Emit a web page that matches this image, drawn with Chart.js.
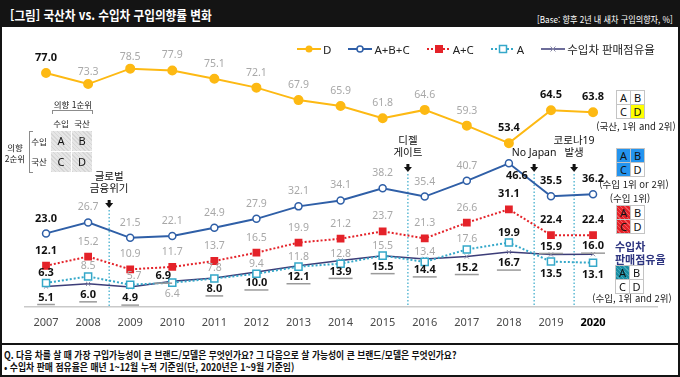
<!DOCTYPE html>
<html lang="ko">
<head>
<meta charset="utf-8">
<title>국산차 vs. 수입차 구입의향률 변화</title>
<script src="https://cdn.jsdelivr.net/npm/chart.js@4.4.1/dist/chart.umd.min.js"></script>
<style>
  html, body { margin: 0; padding: 0; background: #fff; }
  body { position: relative; width: 680px; height: 377px; overflow: hidden;
         font-family: 'Noto Sans', 'Noto Sans CJK KR', sans-serif; color: #111; }
  .title-bar { position: absolute; left: 0; top: 0; width: 680px; height: 27px; background: #141414; }
  .fit { position: absolute; white-space: nowrap; transform-origin: left center; }
  .title { left: 10px; top: 5px; color: #fff; font: bold 13px 'Noto Sans CJK KR', sans-serif; }
  .base { left: 537px; top: 13px; color: #fff; font: 9px 'Noto Sans CJK KR', sans-serif; }
  .frame { position: absolute; left: 0; top: 0; width: 680px; height: 377px; box-sizing: border-box;
           border: 2px solid #141414; pointer-events: none; }
  canvas { position: absolute; left: 0; top: 28px; }
  .legend { position: absolute; left: 297px; top: 41px; display: flex; align-items: center; gap: 17px;
            font-size: 11.5px; color: #222; }
  .legend .item { display: flex; align-items: center; gap: 2px; }
  .legend svg { display: block; }
  .foot-rule { position: absolute; left: 0; top: 343px; width: 680px; height: 2px; background: #141414; }
  .foot1 { left: 4px; top: 347px; font: bold 10px 'Noto Sans CJK KR', sans-serif; }
  .foot2 { left: 4px; top: 359px; font: bold 10px 'Noto Sans CJK KR', sans-serif; }
  .t { position: absolute; white-space: nowrap; transform: translate(-50%, -50%);
       font: 8.5px 'Noto Sans CJK KR', sans-serif; color: #222; }
  .cap { font-size: 9.5px; }
  .share-title { position: absolute; left: 615px; font: bold 11px 'Noto Sans CJK KR', sans-serif; color: #2e3580; }
  .mx { position: absolute; display: grid; grid-template-columns: 13px 13px; grid-auto-rows: 13px;
        gap: 1px; padding: 1px; background: #c4c4c4; }
  .mx div { background: #fff; font: 11px 'Noto Sans', sans-serif; line-height: 13px; text-align: center; color: #111; }
  .mx-big { position: absolute; left: 51px; top: 131px; display: grid; grid-template-columns: 20px 20px;
            grid-auto-rows: 20px; gap: 1px; }
  .mx-big div { background: repeating-linear-gradient(45deg, #d6d6d6 0 1px, #e6e6e6 1px 3px);
                font: 11px 'Noto Sans', sans-serif; line-height: 20px; text-align: center; color: #111; }
  .brk-top { position: absolute; left: 52px; top: 110px; width: 39px; height: 3px; border: 1px solid #8c8c8c; border-bottom: none; }
  .brk-left { position: absolute; left: 29px; top: 131px; width: 3px; height: 40px; border: 1px solid #8c8c8c; border-right: none; }
</style>
</head>
<body>
<div class="title-bar"></div>
<div class="fit title" data-w="202">[그림] 국산차 vs. 수입차 구입의향률 변화</div>
<div class="fit base" data-w="136">[Base: 향후 2년 내 새차 구입의향자, %]</div>

<canvas id="intent-chart" width="680" height="310"></canvas>
<div class="legend" id="legend"></div>

<!-- 의향 순위 설명 매트릭스 -->
<div class="t" style="left:73px; top:104px;">의향 1순위</div>
<div class="brk-top"></div>
<div class="t" style="left:61px; top:123px;">수입</div>
<div class="t" style="left:82px; top:123px;">국산</div>
<div class="mx-big"><div>A</div><div>B</div><div>C</div><div>D</div></div>
<div class="t" style="left:39px; top:141px;">수입</div>
<div class="t" style="left:39px; top:161px;">국산</div>
<div class="brk-left"></div>
<div class="t" style="left:15px; top:147px;">의향</div>
<div class="t" style="left:15px; top:158px;">2순위</div>

<div id="mx-d" class="mx" style="left:616px; top:90px;"></div>
<div class="t cap" style="left:636px; top:126px;">(국산, 1위 and 2위)</div>
<div id="mx-abc" class="mx" style="left:616px; top:148px;"></div>
<div class="t cap" style="left:634px; top:184px;">(수입 1위 or 2위)</div>
<div class="t cap" style="left:630px; top:198px;">(수입 1위)</div>
<div id="mx-ac" class="mx" style="left:616px; top:205px;"></div>
<div class="share-title" style="top:238px;">수입차</div>
<div class="share-title" style="top:251px;">판매점유율</div>
<div id="mx-a" class="mx" style="left:615px; top:265px;"></div>
<div class="t cap" style="left:632px; top:298px;">(수입, 1위 and 2위)</div>

<div class="foot-rule"></div>
<div class="fit foot1" data-w="452">Q. 다음 차를 살 때 가장 구입가능성이 큰 브랜드/모델은 무엇인가요? 그 다음으로 살 가능성이 큰 브랜드/모델은 무엇인가요?</div>
<div class="fit foot2" data-w="290">• 수입차 판매 점유율은 매년 1~12월 누적 기준임(단, 2020년은 1~9월 기준임)</div>
<div class="frame"></div>

<script>
const years = [2007, 2008, 2009, 2010, 2011, 2012, 2013, 2014, 2015, 2016, 2017, 2018, 2019, 2020]

const seriesNames = ['D', 'A+B+C', 'A+C', 'A', '수입차 판매점유율']

const domesticBoth = [77.0, 73.3, 78.5, 77.9, 75.1, 72.1, 67.9, 65.9, 61.8, 64.6, 59.3, 53.4, 64.5, 63.8]
const importAny = [23.0, 26.7, 21.5, 22.1, 24.9, 27.9, 32.1, 34.1, 38.2, 35.4, 40.7, 46.6, 35.5, 36.2]
const importFirst = [12.1, 15.2, 10.9, 11.7, 13.7, 16.5, 19.9, 21.2, 23.7, 21.3, 26.6, 31.1, 22.4, 22.4]
const importBoth = [6.3, 8.5, 5.7, 6.4, 7.8, 9.4, 11.8, 12.8, 15.5, 13.4, 17.6, 19.9, 13.5, 13.1]
const importShare = [5.1, 6.0, 4.9, 6.9, 8.0, 10.0, 12.1, 13.9, 15.5, 14.4, 15.2, 16.7, 15.9, 16.0]

const strongYears = [2007, 2018, 2019, 2020]

const eventNames = ['글로벌\n금융위기', '디젤\n게이트', 'No Japan', '코로나19\n발생']
const eventYears = [2008.5, 2015.6, 2018.6, 2019.55]


// styles
const fontFamily = "'Noto Sans', 'Noto Sans CJK KR', sans-serif"
const lineColors = ['#fdb913', '#2f5fa7', '#e42229', '#35a8c9', '#3c3d78']
const lineDash = [[], [], [2, 2], [2, 2], []]
const eventArrowTop = [172, 136, 136, 136]
const labelDy = [-15, -15, -15, -10, 11]
const labelMoves = {
  '0-1': [0, -12],
  '0-2': [0, -12],
  '1-11': [8, 13],
  '3-2': [4, -9],
  '3-3': [0, 11],
  '3-12': [0, 12],
  '3-13': [0, 12],
  '4-3': [-9, -5],
  '4-12': [0, -8],
  '4-13': [0, -8]
}


// titles & footnotes squeezed to the reference width
document.querySelectorAll('.fit').forEach((el) => {
  const target = Number(el.dataset.w)
  el.style.transform = `scaleX(${target / el.scrollWidth})`
})


// legend
function legendIcon(i) {
  const c = lineColors[i]
  const dash = lineDash[i].length ? `stroke-dasharray="${lineDash[i].join(' ')}"` : ''
  let mark = ''
  if (i === 0) mark = `<circle cx="12" cy="5" r="3.5" fill="${c}"/>`
  if (i === 1) mark = `<circle cx="12" cy="5" r="3" fill="#fff" stroke="${c}" stroke-width="1.5"/>`
  if (i === 2) mark = `<rect x="8" y="1" width="8" height="8" fill="${c}"/>`
  if (i === 3) mark = `<rect x="8.5" y="1.5" width="7" height="7" fill="#fff" stroke="${c}" stroke-width="1.5"/>`
  if (i === 4) mark = `<path d="M9.5 2.5 L14.5 7.5 M14.5 2.5 L9.5 7.5" stroke="#8a8aa8" stroke-width="1"/>`
  const w = i === 4 ? 1.5 : 2
  return `<svg width="24" height="10" viewBox="0 0 24 10"><line x1="0" y1="5" x2="24" y2="5" stroke="${c}" stroke-width="${w}" ${dash}/>${mark}</svg>`
}

let legendHTML = ''
seriesNames.forEach((name, i) => {
  legendHTML += `<span class="item">${legendIcon(i)}<span>${name}</span></span>`
})
document.getElementById('legend').innerHTML = legendHTML


// small A/B/C/D matrices on the right
function buildMatrix(id, fills) {
  let html = '';
  ['A', 'B', 'C', 'D'].forEach((letter, i) => {
    const bg = fills[i] ? `background:${fills[i]};` : ''
    html += `<div style="${bg}">${letter}</div>`
  })
  document.getElementById(id).innerHTML = html
}

const redHatch = 'repeating-linear-gradient(45deg, #e42229 0 2px, #f05a5f 2px 3px)'
const tealHatch = 'repeating-linear-gradient(45deg, #1b8ea3 0 2px, #45a9bb 2px 3px)'
buildMatrix('mx-d', [null, null, null, '#ffff00'])
buildMatrix('mx-abc', ['#2494ee', '#2494ee', '#2494ee', null])
buildMatrix('mx-ac', [redHatch, null, redHatch, null])
buildMatrix('mx-a', [tealHatch, null, null, null])


const toPoints = (values) => years.map((yr, i) => ({ x: yr, y: values[i] }))

const valueLabels = {
  id: 'valueLabels',
  afterDatasetsDraw(chart) {
    const { ctx } = chart
    ctx.save()
    ctx.textAlign = 'center'
    ctx.textBaseline = 'middle'

    chart.data.datasets.forEach((ds, di) => {
      const meta = chart.getDatasetMeta(di)
      meta.data.forEach((pt, i) => {
        const isShare = di === 4
        const strong = isShare || strongYears.includes(years[i])
        const move = labelMoves[`${di}-${i}`] || [0, labelDy[di]]
        const x = pt.x + move[0]
        const y = pt.y + move[1]
        const txt = ds.data[i].y.toFixed(1)

        ctx.font = strong ? `bold 11px ${fontFamily}` : `10.5px ${fontFamily}`
        ctx.fillStyle = strong ? '#111' : '#a8a8a8'
        ctx.fillText(txt, x, y)

        if (isShare) {
          const w = ctx.measureText(txt).width
          ctx.strokeStyle = '#9a9a9a'
          ctx.lineWidth = 1.5
          ctx.beginPath()
          ctx.moveTo(x - w / 2 - 1, y + 7)
          ctx.lineTo(x + w / 2 + 1, y + 7)
          ctx.stroke()
        }
      })
    })
    ctx.restore()
  }
}

const eventMarks = {
  id: 'eventMarks',
  beforeDatasetsDraw(chart) {
    const { ctx, chartArea } = chart
    const xScale = chart.scales.x
    ctx.save()

    eventYears.forEach((yr, i) => {
      const px = xScale.getPixelForValue(yr)
      const top = eventArrowTop[i]

      ctx.strokeStyle = '#35a8c9'
      ctx.lineWidth = 1.2
      ctx.setLineDash([1.5, 2])
      ctx.beginPath()
      ctx.moveTo(px, top + 10)
      ctx.lineTo(px, chartArea.bottom)
      ctx.stroke()
      ctx.setLineDash([])

      ctx.fillStyle = '#111'
      ctx.fillRect(px - 1.5, top, 3, 4)
      ctx.beginPath()
      ctx.moveTo(px - 4, top + 3)
      ctx.lineTo(px + 4, top + 3)
      ctx.lineTo(px, top + 8)
      ctx.closePath()
      ctx.fill()

      ctx.font = `10.5px ${fontFamily}`
      ctx.textAlign = 'center'
      ctx.textBaseline = 'middle'
      const lines = eventNames[i].split('\n')
      lines.forEach((ln, k) => {
        ctx.fillText(ln, px, top - 11 - (lines.length - 1 - k) * 12)
      })
    })
    ctx.restore()
  }
}


const intentCtx = document.getElementById('intent-chart')

const intentChart = new Chart(intentCtx, {
  type: 'line',
  data: {
    datasets: [{
      label: seriesNames[0],
      data: toPoints(domesticBoth),
      borderColor: lineColors[0],
      borderWidth: 2,
      pointStyle: 'circle',
      pointRadius: 4,
      pointBackgroundColor: lineColors[0],
      pointBorderColor: lineColors[0]
    }, {
      label: seriesNames[1],
      data: toPoints(importAny),
      borderColor: lineColors[1],
      borderWidth: 2,
      pointStyle: 'circle',
      pointRadius: 3.5,
      pointBorderWidth: 1.5,
      pointBackgroundColor: '#fff',
      pointBorderColor: lineColors[1]
    }, {
      label: seriesNames[2],
      data: toPoints(importFirst),
      borderColor: lineColors[2],
      borderWidth: 2,
      borderDash: lineDash[2],
      pointStyle: 'rect',
      pointRadius: 5.5,
      pointBorderWidth: 0,
      pointBackgroundColor: lineColors[2],
      pointBorderColor: lineColors[2]
    }, {
      label: seriesNames[3],
      data: toPoints(importBoth),
      borderColor: lineColors[3],
      borderWidth: 2,
      borderDash: lineDash[3],
      pointStyle: 'rect',
      pointRadius: 5,
      pointBorderWidth: 1.5,
      pointBackgroundColor: '#fff',
      pointBorderColor: lineColors[3]
    }, {
      label: seriesNames[4],
      data: toPoints(importShare),
      borderColor: lineColors[4],
      borderWidth: 1.5,
      pointStyle: 'crossRot',
      pointRadius: 3,
      pointBorderWidth: 1,
      pointBorderColor: '#8a8aa8'
    }]
  },
  options: {
    responsive: false,
    animation: false,
    events: [],
    layout: {
      padding: { left: 25, right: 23, top: 2, bottom: 1 }
    },
    scales: {
      x: {
        type: 'linear',
        min: 2006.5,
        max: 2021.52,
        afterBuildTicks: (scale) => {
          scale.ticks = years.map(v => ({ value: v }))
        },
        afterFit: (scale) => {
          scale.height = 30
        },
        grid: { display: false, drawTicks: false },
        border: { display: true, color: '#c9c9c9', width: 1.5 },
        ticks: {
          padding: 9,
          autoSkip: false,
          maxRotation: 0,
          callback: (v) => String(v),
          color: (c) => (c.tick && c.tick.value === 2020 ? '#000' : '#4a4a4a'),
          font: (c) => ({
            family: fontFamily,
            size: 11,
            weight: c.tick && c.tick.value === 2020 ? 'bold' : 'normal'
          })
        }
      },
      y: {
        display: false,
        min: -1.8,
        max: 90
      }
    },
    plugins: {
      legend: { display: false },
      tooltip: { enabled: false }
    }
  },
  plugins: [eventMarks, valueLabels]
})
</script>
</body>
</html>
